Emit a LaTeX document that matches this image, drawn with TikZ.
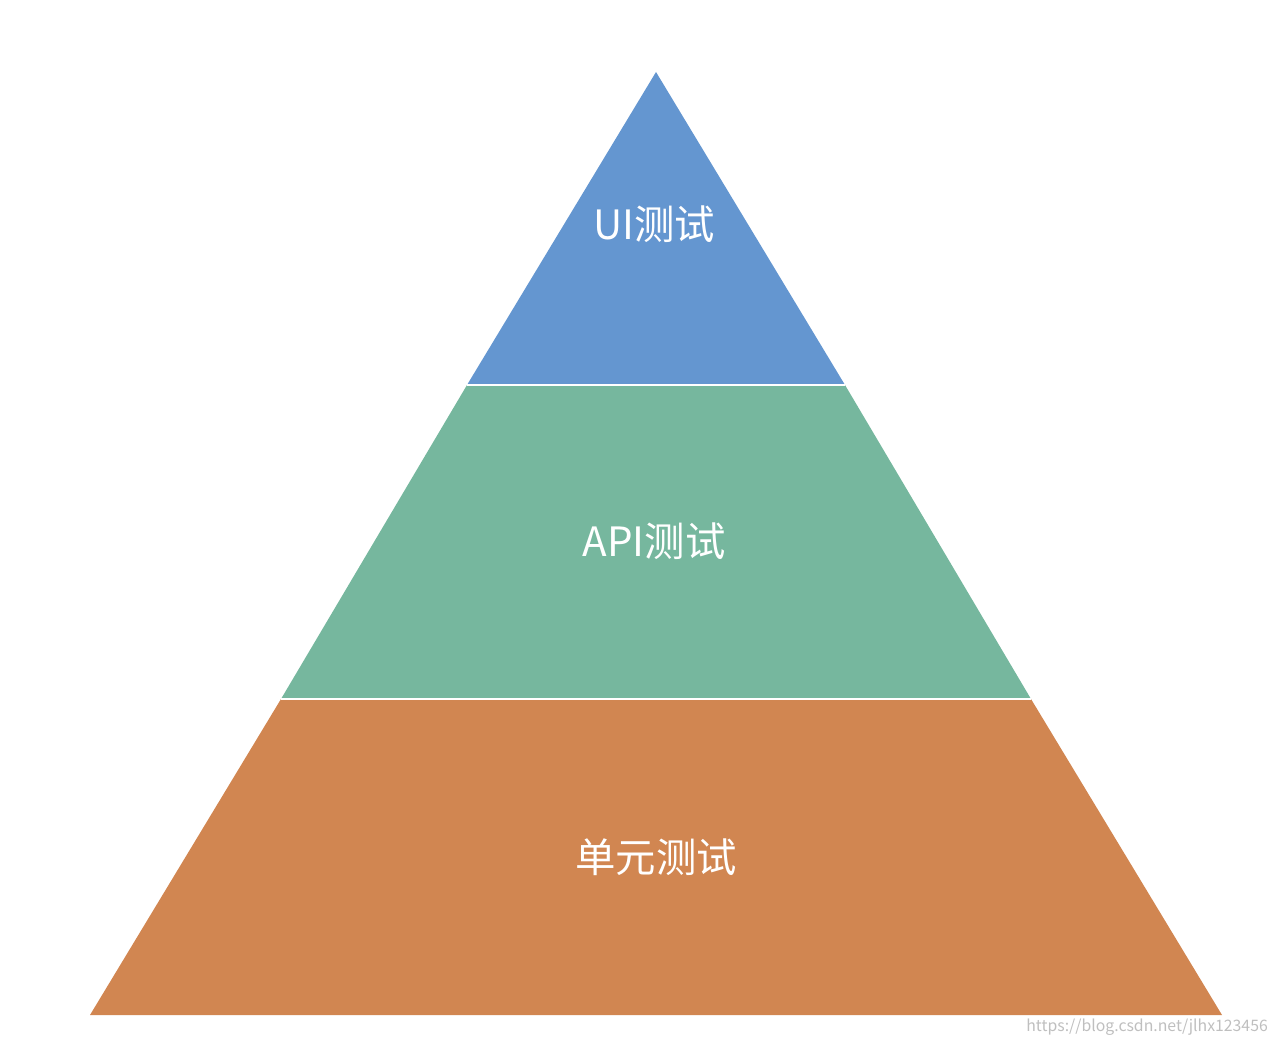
\documentclass[tikz,border=0pt]{standalone}
\usepackage{fontspec}
\setmainfont{Noto Sans CJK SC}
\usepackage{tikz}
\definecolor{uiblue}{HTML}{6496D0}
\definecolor{apigreen}{HTML}{76B79E}
\definecolor{unitorange}{HTML}{D18651}
\begin{document}
\begin{tikzpicture}[x=0.02cm,y=-0.02cm]
	\tikzstyle{layer label}=[text=white,font=\fontsize{23}{26}\selectfont]
	\useasboundingbox (0,0) rectangle (1280,1043);
	\fill [unitorange] (281,699) -- (1031,699) -- (1222,1015) -- (90,1015) -- cycle;
	\fill [apigreen] (467,385) -- (845,385) -- (1031,699) -- (281,699) -- cycle;
	\fill [uiblue] (656,72) -- (845,385) -- (467,385) -- cycle;
	\draw [white,line width=1pt] (467,385) -- (845,385);
	\draw [white,line width=1pt] (281,699) -- (1031,699);
	\node [layer label] (ui) at (654,224) {UI测试};
	\node [layer label] (api) at (654,541) {API测试};
	\node [layer label] (unit) at (656,857) {单元测试};
	\node [text=black!25,font=\fontsize{9}{10}\selectfont,anchor=east] (mark) at (1274,1027) {https://blog.csdn.net/jlhx123456};
\end{tikzpicture}
\end{document}
